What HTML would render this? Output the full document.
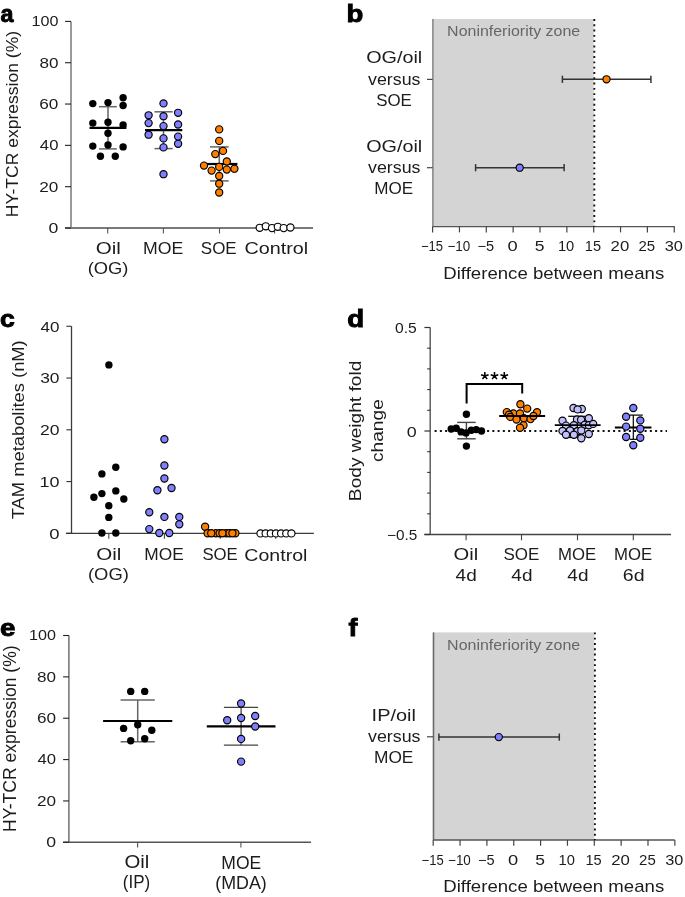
<!DOCTYPE html>
<html><head><meta charset="utf-8"><style>
html,body{margin:0;padding:0;background:#fff;}
svg{display:block;will-change:transform;}
text{font-family:"Liberation Sans", sans-serif;}
</style></head><body>
<svg width="685" height="897" viewBox="0 0 685 897">
<rect width="685" height="897" fill="#fff"/>
<text x="0.40" y="22.10" font-size="24.5" fill="#000" font-weight="bold" textLength="12.99" lengthAdjust="spacingAndGlyphs" stroke="#000" stroke-width="0.9">a</text>
<text x="346.61" y="21.80" font-size="24.5" fill="#000" font-weight="bold" textLength="16.81" lengthAdjust="spacingAndGlyphs" stroke="#000" stroke-width="0.9">b</text>
<text x="0.14" y="327.30" font-size="24.5" fill="#000" font-weight="bold" textLength="14.79" lengthAdjust="spacingAndGlyphs" stroke="#000" stroke-width="0.9">c</text>
<text x="347.29" y="326.90" font-size="24.5" fill="#000" font-weight="bold" textLength="16.93" lengthAdjust="spacingAndGlyphs" stroke="#000" stroke-width="0.9">d</text>
<text x="0.09" y="635.90" font-size="24.5" fill="#000" font-weight="bold" textLength="15.41" lengthAdjust="spacingAndGlyphs" stroke="#000" stroke-width="0.9">e</text>
<text x="348.50" y="635.90" font-size="24.5" fill="#000" font-weight="bold" textLength="8.95" lengthAdjust="spacingAndGlyphs" stroke="#000" stroke-width="0.9">f</text>
<line x1="71.00" y1="21.40" x2="71.00" y2="228.00" stroke="#9a9a9a" stroke-width="2" />
<line x1="65.00" y1="228.00" x2="313.00" y2="228.00" stroke="#7a7a7a" stroke-width="1.8" />
<line x1="65.00" y1="228.00" x2="71.00" y2="228.00" stroke="#222" stroke-width="1.1" />
<text x="48.59" y="233.00" font-size="14" fill="#1c1c1c" class="t" textLength="9.85" lengthAdjust="spacingAndGlyphs" >0</text>
<line x1="65.00" y1="186.68" x2="71.00" y2="186.68" stroke="#222" stroke-width="1.1" />
<text x="39.34" y="191.68" font-size="14" fill="#1c1c1c" class="t" textLength="19.10" lengthAdjust="spacingAndGlyphs" >20</text>
<line x1="65.00" y1="145.36" x2="71.00" y2="145.36" stroke="#222" stroke-width="1.1" />
<text x="39.87" y="150.36" font-size="14" fill="#1c1c1c" class="t" textLength="18.56" lengthAdjust="spacingAndGlyphs" >40</text>
<line x1="65.00" y1="104.04" x2="71.00" y2="104.04" stroke="#222" stroke-width="1.1" />
<text x="39.34" y="109.04" font-size="14" fill="#1c1c1c" class="t" textLength="19.10" lengthAdjust="spacingAndGlyphs" >60</text>
<line x1="65.00" y1="62.72" x2="71.00" y2="62.72" stroke="#222" stroke-width="1.1" />
<text x="39.43" y="67.72" font-size="14" fill="#1c1c1c" class="t" textLength="19.01" lengthAdjust="spacingAndGlyphs" >80</text>
<line x1="65.00" y1="21.40" x2="71.00" y2="21.40" stroke="#222" stroke-width="1.1" />
<text x="31.49" y="26.40" font-size="14" fill="#1c1c1c" class="t" textLength="26.93" lengthAdjust="spacingAndGlyphs" >100</text>
<line x1="107.70" y1="228.00" x2="107.70" y2="233.50" stroke="#555" stroke-width="1.1" />
<line x1="163.40" y1="228.00" x2="163.40" y2="233.50" stroke="#555" stroke-width="1.1" />
<line x1="219.50" y1="228.00" x2="219.50" y2="233.50" stroke="#555" stroke-width="1.1" />
<line x1="274.60" y1="228.00" x2="274.60" y2="233.50" stroke="#555" stroke-width="1.1" />
<text x="95.68" y="253.60" font-size="17" fill="#1c1c1c" class="t" textLength="25.10" lengthAdjust="spacingAndGlyphs" >Oil</text>
<text x="87.65" y="273.80" font-size="17" fill="#1c1c1c" class="t" textLength="40.73" lengthAdjust="spacingAndGlyphs" >(OG)</text>
<text x="143.04" y="253.60" font-size="17" fill="#1c1c1c" class="t" textLength="40.27" lengthAdjust="spacingAndGlyphs" >MOE</text>
<text x="200.84" y="253.60" font-size="17" fill="#1c1c1c" class="t" textLength="35.88" lengthAdjust="spacingAndGlyphs" >SOE</text>
<text x="244.51" y="253.80" font-size="17" fill="#1c1c1c" class="t" textLength="63.75" lengthAdjust="spacingAndGlyphs" >Control</text>
<text class="t" transform="translate(17.90,217.20) rotate(-90)" x="0" y="0" font-size="17" fill="#1c1c1c" textLength="186.30" lengthAdjust="spacingAndGlyphs">HY-TCR expression (%)</text>
<line x1="108.00" y1="106.70" x2="108.00" y2="148.90" stroke="#666" stroke-width="1.5" />
<line x1="99.00" y1="106.70" x2="116.80" y2="106.70" stroke="#666" stroke-width="1.5" />
<line x1="99.00" y1="148.90" x2="116.80" y2="148.90" stroke="#666" stroke-width="1.5" />
<line x1="163.50" y1="111.80" x2="163.50" y2="148.60" stroke="#666" stroke-width="1.5" />
<line x1="154.50" y1="111.80" x2="172.70" y2="111.80" stroke="#666" stroke-width="1.5" />
<line x1="154.50" y1="148.60" x2="172.70" y2="148.60" stroke="#666" stroke-width="1.5" />
<line x1="219.30" y1="146.90" x2="219.30" y2="180.90" stroke="#666" stroke-width="1.5" />
<line x1="210.00" y1="146.90" x2="228.70" y2="146.90" stroke="#666" stroke-width="1.5" />
<line x1="210.00" y1="180.90" x2="228.70" y2="180.90" stroke="#666" stroke-width="1.5" />
<line x1="89.50" y1="127.90" x2="126.40" y2="127.90" stroke="#000" stroke-width="2.2" />
<line x1="145.00" y1="130.20" x2="182.30" y2="130.20" stroke="#000" stroke-width="2.2" />
<line x1="206.00" y1="164.00" x2="237.40" y2="164.00" stroke="#000" stroke-width="2.2" />
<circle cx="92.80" cy="103.60" r="3.70" fill="#000"/>
<circle cx="108.00" cy="102.60" r="3.70" fill="#000"/>
<circle cx="123.10" cy="97.80" r="3.70" fill="#000"/>
<circle cx="123.10" cy="105.50" r="3.70" fill="#000"/>
<circle cx="92.80" cy="123.10" r="3.70" fill="#000"/>
<circle cx="108.00" cy="122.30" r="3.70" fill="#000"/>
<circle cx="123.10" cy="125.00" r="3.70" fill="#000"/>
<circle cx="108.00" cy="133.30" r="3.70" fill="#000"/>
<circle cx="92.80" cy="146.10" r="3.70" fill="#000"/>
<circle cx="108.00" cy="145.00" r="3.70" fill="#000"/>
<circle cx="123.10" cy="146.90" r="3.70" fill="#000"/>
<circle cx="100.40" cy="156.20" r="3.70" fill="#000"/>
<circle cx="115.30" cy="156.20" r="3.70" fill="#000"/>
<circle cx="163.50" cy="103.40" r="3.60" fill="#8080ff" stroke="#000" stroke-width="1.15"/>
<circle cx="148.60" cy="115.30" r="3.60" fill="#8080ff" stroke="#000" stroke-width="1.15"/>
<circle cx="163.50" cy="116.20" r="3.60" fill="#8080ff" stroke="#000" stroke-width="1.15"/>
<circle cx="178.10" cy="112.80" r="3.60" fill="#8080ff" stroke="#000" stroke-width="1.15"/>
<circle cx="148.60" cy="123.10" r="3.60" fill="#8080ff" stroke="#000" stroke-width="1.15"/>
<circle cx="163.50" cy="126.10" r="3.60" fill="#8080ff" stroke="#000" stroke-width="1.15"/>
<circle cx="178.10" cy="124.50" r="3.60" fill="#8080ff" stroke="#000" stroke-width="1.15"/>
<circle cx="148.60" cy="134.70" r="3.60" fill="#8080ff" stroke="#000" stroke-width="1.15"/>
<circle cx="163.50" cy="138.40" r="3.60" fill="#8080ff" stroke="#000" stroke-width="1.15"/>
<circle cx="178.10" cy="136.60" r="3.60" fill="#8080ff" stroke="#000" stroke-width="1.15"/>
<circle cx="178.10" cy="143.80" r="3.60" fill="#8080ff" stroke="#000" stroke-width="1.15"/>
<circle cx="163.50" cy="147.40" r="3.60" fill="#8080ff" stroke="#000" stroke-width="1.15"/>
<circle cx="163.50" cy="174.20" r="3.60" fill="#8080ff" stroke="#000" stroke-width="1.15"/>
<circle cx="219.20" cy="129.40" r="3.60" fill="#ff8000" stroke="#000" stroke-width="1.15"/>
<circle cx="219.20" cy="140.90" r="3.60" fill="#ff8000" stroke="#000" stroke-width="1.15"/>
<circle cx="223.00" cy="150.90" r="3.60" fill="#ff8000" stroke="#000" stroke-width="1.15"/>
<circle cx="215.30" cy="154.10" r="3.60" fill="#ff8000" stroke="#000" stroke-width="1.15"/>
<circle cx="226.80" cy="161.50" r="3.60" fill="#ff8000" stroke="#000" stroke-width="1.15"/>
<circle cx="204.00" cy="165.60" r="3.60" fill="#ff8000" stroke="#000" stroke-width="1.15"/>
<circle cx="219.20" cy="166.90" r="3.60" fill="#ff8000" stroke="#000" stroke-width="1.15"/>
<circle cx="211.60" cy="170.60" r="3.60" fill="#ff8000" stroke="#000" stroke-width="1.15"/>
<circle cx="226.80" cy="169.60" r="3.60" fill="#ff8000" stroke="#000" stroke-width="1.15"/>
<circle cx="234.40" cy="168.70" r="3.60" fill="#ff8000" stroke="#000" stroke-width="1.15"/>
<circle cx="219.20" cy="176.00" r="3.60" fill="#ff8000" stroke="#000" stroke-width="1.15"/>
<circle cx="219.20" cy="183.70" r="3.60" fill="#ff8000" stroke="#000" stroke-width="1.15"/>
<circle cx="219.20" cy="192.50" r="3.60" fill="#ff8000" stroke="#000" stroke-width="1.15"/>
<circle cx="259.70" cy="227.80" r="3.60" fill="#fff" stroke="#000" stroke-width="1.15"/>
<circle cx="265.80" cy="226.30" r="3.60" fill="#fff" stroke="#000" stroke-width="1.15"/>
<circle cx="272.00" cy="228.10" r="3.60" fill="#fff" stroke="#000" stroke-width="1.15"/>
<circle cx="277.80" cy="226.80" r="3.60" fill="#fff" stroke="#000" stroke-width="1.15"/>
<circle cx="283.70" cy="228.10" r="3.60" fill="#fff" stroke="#000" stroke-width="1.15"/>
<circle cx="290.40" cy="227.50" r="3.60" fill="#fff" stroke="#000" stroke-width="1.15"/>
<rect x="432.60" y="19.00" width="161.10" height="207.60" fill="#d4d4d4"/>
<line x1="432.90" y1="19.00" x2="432.90" y2="226.60" stroke="#8a8a8a" stroke-width="1.6" />
<line x1="432.60" y1="226.60" x2="674.80" y2="226.60" stroke="#555" stroke-width="1.4" />
<line x1="432.60" y1="226.60" x2="432.60" y2="232.40" stroke="#444" stroke-width="1.2" />
<text x="421.00" y="251.20" font-size="14" fill="#1c1c1c" class="t" textLength="22.09" lengthAdjust="spacingAndGlyphs" >−15</text>
<line x1="459.45" y1="226.60" x2="459.45" y2="232.40" stroke="#444" stroke-width="1.2" />
<text x="447.48" y="251.20" font-size="14" fill="#1c1c1c" class="t" textLength="22.76" lengthAdjust="spacingAndGlyphs" >−10</text>
<line x1="486.30" y1="226.60" x2="486.30" y2="232.40" stroke="#444" stroke-width="1.2" />
<text x="477.42" y="251.20" font-size="14" fill="#1c1c1c" class="t" textLength="16.61" lengthAdjust="spacingAndGlyphs" >−5</text>
<line x1="513.15" y1="226.60" x2="513.15" y2="232.40" stroke="#444" stroke-width="1.2" />
<text x="507.52" y="251.20" font-size="14" fill="#1c1c1c" class="t" textLength="10.20" lengthAdjust="spacingAndGlyphs" >0</text>
<line x1="540.00" y1="226.60" x2="540.00" y2="232.40" stroke="#444" stroke-width="1.2" />
<text x="534.65" y="251.20" font-size="14" fill="#1c1c1c" class="t" textLength="9.72" lengthAdjust="spacingAndGlyphs" >5</text>
<line x1="566.85" y1="226.60" x2="566.85" y2="232.40" stroke="#444" stroke-width="1.2" />
<text x="557.90" y="251.20" font-size="14" fill="#1c1c1c" class="t" textLength="16.35" lengthAdjust="spacingAndGlyphs" >10</text>
<line x1="593.70" y1="226.60" x2="593.70" y2="232.40" stroke="#444" stroke-width="1.2" />
<text x="584.86" y="251.20" font-size="14" fill="#1c1c1c" class="t" textLength="16.21" lengthAdjust="spacingAndGlyphs" >15</text>
<line x1="620.55" y1="226.60" x2="620.55" y2="232.40" stroke="#444" stroke-width="1.2" />
<text x="610.61" y="251.20" font-size="14" fill="#1c1c1c" class="t" textLength="18.67" lengthAdjust="spacingAndGlyphs" >20</text>
<line x1="647.40" y1="226.60" x2="647.40" y2="232.40" stroke="#444" stroke-width="1.2" />
<text x="638.50" y="251.20" font-size="14" fill="#1c1c1c" class="t" textLength="16.69" lengthAdjust="spacingAndGlyphs" >25</text>
<line x1="674.25" y1="226.60" x2="674.25" y2="232.40" stroke="#444" stroke-width="1.2" />
<text x="664.65" y="251.20" font-size="14" fill="#1c1c1c" class="t" textLength="18.16" lengthAdjust="spacingAndGlyphs" >30</text>
<line x1="594.30" y1="19.00" x2="594.30" y2="226.60" stroke="#111" stroke-width="1.9" stroke-dasharray="1.9 3.4"/>
<text x="447.12" y="36.30" font-size="15" fill="#666666" class="t" textLength="133.04" lengthAdjust="spacingAndGlyphs" >Noninferiority zone</text>
<text x="443.31" y="278.70" font-size="17" fill="#1c1c1c" class="t" textLength="220.90" lengthAdjust="spacingAndGlyphs" >Difference between means</text>
<line x1="427.00" y1="79.40" x2="432.60" y2="79.40" stroke="#444" stroke-width="1.2" />
<text x="366.21" y="63.40" font-size="17" fill="#1c1c1c" class="t" textLength="56.05" lengthAdjust="spacingAndGlyphs" >OG/oil</text>
<text x="368.06" y="84.50" font-size="17" fill="#1c1c1c" class="t" textLength="52.42" lengthAdjust="spacingAndGlyphs" >versus</text>
<text x="376.14" y="105.90" font-size="17" fill="#1c1c1c" class="t" textLength="35.67" lengthAdjust="spacingAndGlyphs" >SOE</text>
<line x1="427.00" y1="167.70" x2="432.60" y2="167.70" stroke="#444" stroke-width="1.2" />
<text x="366.21" y="152.00" font-size="17" fill="#1c1c1c" class="t" textLength="56.05" lengthAdjust="spacingAndGlyphs" >OG/oil</text>
<text x="368.06" y="172.50" font-size="17" fill="#1c1c1c" class="t" textLength="52.42" lengthAdjust="spacingAndGlyphs" >versus</text>
<text x="374.23" y="193.50" font-size="17" fill="#1c1c1c" class="t" textLength="38.90" lengthAdjust="spacingAndGlyphs" >MOE</text>
<line x1="562.40" y1="79.30" x2="650.90" y2="79.30" stroke="#333" stroke-width="1.5" />
<line x1="562.40" y1="75.70" x2="562.40" y2="82.90" stroke="#333" stroke-width="1.5" />
<line x1="650.90" y1="75.70" x2="650.90" y2="82.90" stroke="#333" stroke-width="1.5" />
<circle cx="606.50" cy="79.30" r="3.60" fill="#ff8000" stroke="#000" stroke-width="1.15"/>
<line x1="475.60" y1="167.70" x2="564.10" y2="167.70" stroke="#333" stroke-width="1.5" />
<line x1="475.60" y1="164.10" x2="475.60" y2="171.30" stroke="#333" stroke-width="1.5" />
<line x1="564.10" y1="164.10" x2="564.10" y2="171.30" stroke="#333" stroke-width="1.5" />
<circle cx="519.70" cy="167.70" r="3.60" fill="#8080ff" stroke="#000" stroke-width="1.15"/>
<rect x="433.20" y="632.40" width="161.10" height="207.60" fill="#d4d4d4"/>
<line x1="433.50" y1="632.40" x2="433.50" y2="840.00" stroke="#6a6a6a" stroke-width="1.6" />
<line x1="433.20" y1="840.00" x2="674.80" y2="840.00" stroke="#555" stroke-width="1.4" />
<line x1="433.20" y1="840.00" x2="433.20" y2="845.80" stroke="#444" stroke-width="1.2" />
<text x="421.60" y="864.60" font-size="14" fill="#1c1c1c" class="t" textLength="22.09" lengthAdjust="spacingAndGlyphs" >−15</text>
<line x1="460.05" y1="840.00" x2="460.05" y2="845.80" stroke="#444" stroke-width="1.2" />
<text x="448.08" y="864.60" font-size="14" fill="#1c1c1c" class="t" textLength="22.76" lengthAdjust="spacingAndGlyphs" >−10</text>
<line x1="486.90" y1="840.00" x2="486.90" y2="845.80" stroke="#444" stroke-width="1.2" />
<text x="478.02" y="864.60" font-size="14" fill="#1c1c1c" class="t" textLength="16.61" lengthAdjust="spacingAndGlyphs" >−5</text>
<line x1="513.75" y1="840.00" x2="513.75" y2="845.80" stroke="#444" stroke-width="1.2" />
<text x="508.12" y="864.60" font-size="14" fill="#1c1c1c" class="t" textLength="10.20" lengthAdjust="spacingAndGlyphs" >0</text>
<line x1="540.60" y1="840.00" x2="540.60" y2="845.80" stroke="#444" stroke-width="1.2" />
<text x="535.25" y="864.60" font-size="14" fill="#1c1c1c" class="t" textLength="9.72" lengthAdjust="spacingAndGlyphs" >5</text>
<line x1="567.45" y1="840.00" x2="567.45" y2="845.80" stroke="#444" stroke-width="1.2" />
<text x="558.50" y="864.60" font-size="14" fill="#1c1c1c" class="t" textLength="16.35" lengthAdjust="spacingAndGlyphs" >10</text>
<line x1="594.30" y1="840.00" x2="594.30" y2="845.80" stroke="#444" stroke-width="1.2" />
<text x="585.46" y="864.60" font-size="14" fill="#1c1c1c" class="t" textLength="16.21" lengthAdjust="spacingAndGlyphs" >15</text>
<line x1="621.15" y1="840.00" x2="621.15" y2="845.80" stroke="#444" stroke-width="1.2" />
<text x="611.21" y="864.60" font-size="14" fill="#1c1c1c" class="t" textLength="18.67" lengthAdjust="spacingAndGlyphs" >20</text>
<line x1="648.00" y1="840.00" x2="648.00" y2="845.80" stroke="#444" stroke-width="1.2" />
<text x="639.10" y="864.60" font-size="14" fill="#1c1c1c" class="t" textLength="16.69" lengthAdjust="spacingAndGlyphs" >25</text>
<line x1="674.85" y1="840.00" x2="674.85" y2="845.80" stroke="#444" stroke-width="1.2" />
<text x="665.25" y="864.60" font-size="14" fill="#1c1c1c" class="t" textLength="18.16" lengthAdjust="spacingAndGlyphs" >30</text>
<line x1="594.90" y1="632.40" x2="594.90" y2="840.00" stroke="#111" stroke-width="1.9" stroke-dasharray="1.9 3.4"/>
<text x="447.12" y="649.70" font-size="15" fill="#666666" class="t" textLength="133.04" lengthAdjust="spacingAndGlyphs" >Noninferiority zone</text>
<text x="443.31" y="892.10" font-size="17" fill="#1c1c1c" class="t" textLength="220.90" lengthAdjust="spacingAndGlyphs" >Difference between means</text>
<line x1="427.00" y1="736.80" x2="433.20" y2="736.80" stroke="#444" stroke-width="1.2" />
<text x="371.60" y="721.20" font-size="17" fill="#1c1c1c" class="t" textLength="44.36" lengthAdjust="spacingAndGlyphs" >IP/oil</text>
<text x="368.06" y="741.70" font-size="17" fill="#1c1c1c" class="t" textLength="52.42" lengthAdjust="spacingAndGlyphs" >versus</text>
<text x="373.97" y="763.40" font-size="17" fill="#1c1c1c" class="t" textLength="39.43" lengthAdjust="spacingAndGlyphs" >MOE</text>
<line x1="438.90" y1="737.10" x2="559.30" y2="737.10" stroke="#333" stroke-width="1.5" />
<line x1="438.90" y1="733.50" x2="438.90" y2="740.70" stroke="#333" stroke-width="1.5" />
<line x1="559.30" y1="733.50" x2="559.30" y2="740.70" stroke="#333" stroke-width="1.5" />
<circle cx="498.80" cy="737.10" r="3.60" fill="#8080ff" stroke="#000" stroke-width="1.15"/>
<line x1="71.50" y1="326.30" x2="71.50" y2="533.30" stroke="#3c3c3c" stroke-width="1.3" />
<line x1="65.90" y1="533.30" x2="313.90" y2="533.30" stroke="#3c3c3c" stroke-width="1.3" />
<line x1="66.40" y1="533.30" x2="71.50" y2="533.30" stroke="#333" stroke-width="1.1" />
<text x="49.26" y="538.50" font-size="14" fill="#1c1c1c" class="t" textLength="10.31" lengthAdjust="spacingAndGlyphs" >0</text>
<line x1="66.40" y1="481.55" x2="71.50" y2="481.55" stroke="#333" stroke-width="1.1" />
<text x="39.55" y="486.75" font-size="14" fill="#1c1c1c" class="t" textLength="20.02" lengthAdjust="spacingAndGlyphs" >10</text>
<line x1="66.40" y1="429.80" x2="71.50" y2="429.80" stroke="#333" stroke-width="1.1" />
<text x="40.02" y="435.00" font-size="14" fill="#1c1c1c" class="t" textLength="19.53" lengthAdjust="spacingAndGlyphs" >20</text>
<line x1="66.40" y1="378.05" x2="71.50" y2="378.05" stroke="#333" stroke-width="1.1" />
<text x="40.20" y="383.25" font-size="14" fill="#1c1c1c" class="t" textLength="19.35" lengthAdjust="spacingAndGlyphs" >30</text>
<line x1="66.40" y1="326.30" x2="71.50" y2="326.30" stroke="#333" stroke-width="1.1" />
<text x="40.56" y="331.50" font-size="14" fill="#1c1c1c" class="t" textLength="18.98" lengthAdjust="spacingAndGlyphs" >40</text>
<line x1="108.80" y1="533.30" x2="108.80" y2="538.80" stroke="#444" stroke-width="1.1" />
<line x1="164.40" y1="533.30" x2="164.40" y2="538.80" stroke="#444" stroke-width="1.1" />
<line x1="220.20" y1="533.30" x2="220.20" y2="538.80" stroke="#444" stroke-width="1.1" />
<line x1="275.70" y1="533.30" x2="275.70" y2="538.80" stroke="#444" stroke-width="1.1" />
<text x="96.28" y="560.40" font-size="17" fill="#1c1c1c" class="t" textLength="25.10" lengthAdjust="spacingAndGlyphs" >Oil</text>
<text x="88.00" y="580.20" font-size="17" fill="#1c1c1c" class="t" textLength="40.84" lengthAdjust="spacingAndGlyphs" >(OG)</text>
<text x="144.37" y="560.40" font-size="17" fill="#1c1c1c" class="t" textLength="39.43" lengthAdjust="spacingAndGlyphs" >MOE</text>
<text x="202.40" y="560.40" font-size="17" fill="#1c1c1c" class="t" textLength="35.35" lengthAdjust="spacingAndGlyphs" >SOE</text>
<text x="244.37" y="560.60" font-size="17" fill="#1c1c1c" class="t" textLength="63.02" lengthAdjust="spacingAndGlyphs" >Control</text>
<text class="t" transform="translate(24.00,519.27) rotate(-90)" x="0" y="0" font-size="17" fill="#1c1c1c" textLength="179.00" lengthAdjust="spacingAndGlyphs">TAM metabolites (nM)</text>
<circle cx="108.90" cy="364.90" r="3.70" fill="#000"/>
<circle cx="101.90" cy="473.90" r="3.70" fill="#000"/>
<circle cx="115.80" cy="467.30" r="3.70" fill="#000"/>
<circle cx="93.90" cy="497.20" r="3.70" fill="#000"/>
<circle cx="101.90" cy="493.60" r="3.70" fill="#000"/>
<circle cx="115.80" cy="490.90" r="3.70" fill="#000"/>
<circle cx="123.80" cy="499.00" r="3.70" fill="#000"/>
<circle cx="108.80" cy="505.70" r="3.70" fill="#000"/>
<circle cx="108.80" cy="517.40" r="3.70" fill="#000"/>
<circle cx="101.90" cy="533.00" r="3.70" fill="#000"/>
<circle cx="115.80" cy="533.00" r="3.70" fill="#000"/>
<circle cx="164.40" cy="439.30" r="3.60" fill="#8080ff" stroke="#000" stroke-width="1.15"/>
<circle cx="164.40" cy="465.50" r="3.60" fill="#8080ff" stroke="#000" stroke-width="1.15"/>
<circle cx="164.40" cy="478.50" r="3.60" fill="#8080ff" stroke="#000" stroke-width="1.15"/>
<circle cx="157.40" cy="490.20" r="3.60" fill="#8080ff" stroke="#000" stroke-width="1.15"/>
<circle cx="171.50" cy="488.00" r="3.60" fill="#8080ff" stroke="#000" stroke-width="1.15"/>
<circle cx="149.30" cy="512.30" r="3.60" fill="#8080ff" stroke="#000" stroke-width="1.15"/>
<circle cx="164.40" cy="516.90" r="3.60" fill="#8080ff" stroke="#000" stroke-width="1.15"/>
<circle cx="179.30" cy="516.90" r="3.60" fill="#8080ff" stroke="#000" stroke-width="1.15"/>
<circle cx="179.30" cy="524.20" r="3.60" fill="#8080ff" stroke="#000" stroke-width="1.15"/>
<circle cx="149.30" cy="529.10" r="3.60" fill="#8080ff" stroke="#000" stroke-width="1.15"/>
<circle cx="159.30" cy="533.00" r="3.60" fill="#8080ff" stroke="#000" stroke-width="1.15"/>
<circle cx="169.30" cy="533.00" r="3.60" fill="#8080ff" stroke="#000" stroke-width="1.15"/>
<circle cx="205.10" cy="526.70" r="3.60" fill="#ff8000" stroke="#000" stroke-width="1.15"/>
<circle cx="207.60" cy="533.20" r="3.60" fill="#ff8000" stroke="#000" stroke-width="1.15"/>
<circle cx="215.80" cy="533.20" r="3.60" fill="#ff8000" stroke="#000" stroke-width="1.15"/>
<circle cx="219.60" cy="533.20" r="3.60" fill="#ff8000" stroke="#000" stroke-width="1.15"/>
<circle cx="226.20" cy="533.20" r="3.60" fill="#ff8000" stroke="#000" stroke-width="1.15"/>
<circle cx="229.40" cy="533.20" r="3.60" fill="#ff8000" stroke="#000" stroke-width="1.15"/>
<circle cx="235.40" cy="533.20" r="3.60" fill="#ff8000" stroke="#000" stroke-width="1.15"/>
<circle cx="211.20" cy="533.20" r="3.60" fill="#ff8000" stroke="#000" stroke-width="1.15"/>
<circle cx="222.40" cy="533.20" r="3.60" fill="#ff8000" stroke="#000" stroke-width="1.15"/>
<circle cx="232.40" cy="533.20" r="3.60" fill="#ff8000" stroke="#000" stroke-width="1.15"/>
<circle cx="260.50" cy="533.40" r="3.60" fill="#fff" stroke="#000" stroke-width="1.15"/>
<circle cx="265.65" cy="533.40" r="3.60" fill="#fff" stroke="#000" stroke-width="1.15"/>
<circle cx="270.80" cy="533.40" r="3.60" fill="#fff" stroke="#000" stroke-width="1.15"/>
<circle cx="275.95" cy="533.40" r="3.60" fill="#fff" stroke="#000" stroke-width="1.15"/>
<circle cx="281.10" cy="533.40" r="3.60" fill="#fff" stroke="#000" stroke-width="1.15"/>
<circle cx="286.25" cy="533.40" r="3.60" fill="#fff" stroke="#000" stroke-width="1.15"/>
<circle cx="291.40" cy="533.40" r="3.60" fill="#fff" stroke="#000" stroke-width="1.15"/>
<line x1="430.20" y1="327.50" x2="430.20" y2="534.50" stroke="#555" stroke-width="1.4" />
<line x1="424.40" y1="534.50" x2="671.00" y2="534.50" stroke="#444" stroke-width="1.4" />
<line x1="424.40" y1="327.50" x2="430.20" y2="327.50" stroke="#333" stroke-width="1.2" />
<line x1="424.40" y1="431.00" x2="430.20" y2="431.00" stroke="#333" stroke-width="1.2" />
<line x1="424.40" y1="534.50" x2="430.20" y2="534.50" stroke="#333" stroke-width="1.2" />
<line x1="427.20" y1="348.20" x2="430.20" y2="348.20" stroke="#333" stroke-width="1.1" />
<line x1="427.20" y1="368.90" x2="430.20" y2="368.90" stroke="#333" stroke-width="1.1" />
<line x1="427.20" y1="389.60" x2="430.20" y2="389.60" stroke="#333" stroke-width="1.1" />
<line x1="427.20" y1="410.30" x2="430.20" y2="410.30" stroke="#333" stroke-width="1.1" />
<line x1="427.20" y1="451.70" x2="430.20" y2="451.70" stroke="#333" stroke-width="1.1" />
<line x1="427.20" y1="472.40" x2="430.20" y2="472.40" stroke="#333" stroke-width="1.1" />
<line x1="427.20" y1="493.10" x2="430.20" y2="493.10" stroke="#333" stroke-width="1.1" />
<line x1="427.20" y1="513.80" x2="430.20" y2="513.80" stroke="#333" stroke-width="1.1" />
<text x="395.07" y="333.30" font-size="14" fill="#1c1c1c" class="t" textLength="21.75" lengthAdjust="spacingAndGlyphs" >0.5</text>
<text x="406.68" y="436.60" font-size="14" fill="#1c1c1c" class="t" textLength="9.96" lengthAdjust="spacingAndGlyphs" >0</text>
<text x="387.13" y="540.00" font-size="14" fill="#1c1c1c" class="t" textLength="30.27" lengthAdjust="spacingAndGlyphs" >−0.5</text>
<line x1="434.6" y1="431" x2="667" y2="431" stroke="#111" stroke-width="2" stroke-dasharray="2 3.25"/>
<line x1="466.10" y1="534.50" x2="466.10" y2="540.30" stroke="#444" stroke-width="1.1" />
<line x1="521.50" y1="534.50" x2="521.50" y2="540.30" stroke="#444" stroke-width="1.1" />
<line x1="577.50" y1="534.50" x2="577.50" y2="540.30" stroke="#444" stroke-width="1.1" />
<line x1="633.30" y1="534.50" x2="633.30" y2="540.30" stroke="#444" stroke-width="1.1" />
<text x="453.59" y="560.30" font-size="17" fill="#1c1c1c" class="t" textLength="24.66" lengthAdjust="spacingAndGlyphs" >Oil</text>
<text x="455.57" y="580.70" font-size="17" fill="#1c1c1c" class="t" textLength="21.16" lengthAdjust="spacingAndGlyphs" >4d</text>
<text x="503.54" y="560.30" font-size="17" fill="#1c1c1c" class="t" textLength="35.88" lengthAdjust="spacingAndGlyphs" >SOE</text>
<text x="511.37" y="580.70" font-size="17" fill="#1c1c1c" class="t" textLength="21.16" lengthAdjust="spacingAndGlyphs" >4d</text>
<text x="558.11" y="560.30" font-size="17" fill="#1c1c1c" class="t" textLength="38.16" lengthAdjust="spacingAndGlyphs" >MOE</text>
<text x="567.37" y="580.70" font-size="17" fill="#1c1c1c" class="t" textLength="21.16" lengthAdjust="spacingAndGlyphs" >4d</text>
<text x="614.11" y="560.30" font-size="17" fill="#1c1c1c" class="t" textLength="38.16" lengthAdjust="spacingAndGlyphs" >MOE</text>
<text x="622.77" y="580.70" font-size="17" fill="#1c1c1c" class="t" textLength="21.80" lengthAdjust="spacingAndGlyphs" >6d</text>
<text class="t" transform="translate(361.40,501.13) rotate(-90)" x="0" y="0" font-size="17" fill="#1c1c1c" textLength="140.43" lengthAdjust="spacingAndGlyphs">Body weight fold</text>
<text class="t" transform="translate(382.60,461.96) rotate(-90)" x="0" y="0" font-size="17" fill="#1c1c1c" textLength="62.74" lengthAdjust="spacingAndGlyphs">change</text>
<polyline points="466.6,403.6 466.6,383.9 522.2,383.9 522.2,393.4" fill="none" stroke="#000" stroke-width="2"/>
<path d="M484.80,375.90L484.80,371.90M484.80,375.90L488.60,374.66M484.80,375.90L487.15,379.14M484.80,375.90L482.45,379.14M484.80,375.90L481.00,374.66" stroke="#000" stroke-width="1.55" fill="none"/>
<path d="M494.50,375.90L494.50,371.90M494.50,375.90L498.30,374.66M494.50,375.90L496.85,379.14M494.50,375.90L492.15,379.14M494.50,375.90L490.70,374.66" stroke="#000" stroke-width="1.55" fill="none"/>
<path d="M504.30,375.90L504.30,371.90M504.30,375.90L508.10,374.66M504.30,375.90L506.65,379.14M504.30,375.90L501.95,379.14M504.30,375.90L500.50,374.66" stroke="#000" stroke-width="1.55" fill="none"/>
<line x1="466.40" y1="422.40" x2="466.40" y2="438.80" stroke="#444" stroke-width="1.4" />
<line x1="457.20" y1="422.40" x2="475.70" y2="422.40" stroke="#444" stroke-width="1.4" />
<line x1="457.20" y1="438.80" x2="475.70" y2="438.80" stroke="#444" stroke-width="1.4" />
<line x1="577.20" y1="416.30" x2="577.20" y2="437.50" stroke="#000" stroke-width="1.2" />
<line x1="568.20" y1="416.30" x2="585.70" y2="416.30" stroke="#000" stroke-width="1.2" />
<line x1="568.20" y1="437.50" x2="585.70" y2="437.50" stroke="#000" stroke-width="1.2" />
<line x1="633.30" y1="415.10" x2="633.30" y2="439.30" stroke="#000" stroke-width="1.2" />
<line x1="629.80" y1="415.10" x2="642.80" y2="415.10" stroke="#000" stroke-width="1.2" />
<line x1="629.80" y1="439.30" x2="642.80" y2="439.30" stroke="#000" stroke-width="1.2" />
<line x1="614.90" y1="427.60" x2="651.50" y2="427.60" stroke="#000" stroke-width="2.0" />
<circle cx="466.40" cy="414.20" r="3.70" fill="#000"/>
<circle cx="466.40" cy="446.10" r="3.70" fill="#000"/>
<circle cx="451.20" cy="429.00" r="3.70" fill="#000"/>
<circle cx="456.20" cy="428.30" r="3.70" fill="#000"/>
<circle cx="461.10" cy="431.90" r="3.70" fill="#000"/>
<circle cx="466.00" cy="432.90" r="3.70" fill="#000"/>
<circle cx="471.30" cy="430.30" r="3.70" fill="#000"/>
<circle cx="476.20" cy="429.60" r="3.70" fill="#000"/>
<circle cx="481.50" cy="431.00" r="3.70" fill="#000"/>
<circle cx="520.40" cy="404.20" r="3.60" fill="#ff8000" stroke="#000" stroke-width="1.15"/>
<circle cx="527.20" cy="408.60" r="3.60" fill="#ff8000" stroke="#000" stroke-width="1.15"/>
<circle cx="506.80" cy="412.10" r="3.60" fill="#ff8000" stroke="#000" stroke-width="1.15"/>
<circle cx="513.40" cy="413.40" r="3.60" fill="#ff8000" stroke="#000" stroke-width="1.15"/>
<circle cx="520.00" cy="413.40" r="3.60" fill="#ff8000" stroke="#000" stroke-width="1.15"/>
<circle cx="537.00" cy="412.30" r="3.60" fill="#ff8000" stroke="#000" stroke-width="1.15"/>
<circle cx="509.00" cy="414.70" r="3.60" fill="#ff8000" stroke="#000" stroke-width="1.15"/>
<circle cx="510.30" cy="416.90" r="3.60" fill="#ff8000" stroke="#000" stroke-width="1.15"/>
<circle cx="516.50" cy="419.50" r="3.60" fill="#ff8000" stroke="#000" stroke-width="1.15"/>
<circle cx="523.90" cy="418.20" r="3.60" fill="#ff8000" stroke="#000" stroke-width="1.15"/>
<circle cx="530.50" cy="419.10" r="3.60" fill="#ff8000" stroke="#000" stroke-width="1.15"/>
<circle cx="533.50" cy="416.00" r="3.60" fill="#ff8000" stroke="#000" stroke-width="1.15"/>
<circle cx="523.50" cy="425.20" r="3.60" fill="#ff8000" stroke="#000" stroke-width="1.15"/>
<circle cx="520.00" cy="427.80" r="3.60" fill="#ff8000" stroke="#000" stroke-width="1.15"/>
<circle cx="573.50" cy="408.00" r="3.60" fill="#c1c1fb" stroke="#000" stroke-width="1.15"/>
<circle cx="581.80" cy="409.00" r="3.60" fill="#c1c1fb" stroke="#000" stroke-width="1.15"/>
<circle cx="577.60" cy="409.40" r="3.60" fill="#c1c1fb" stroke="#000" stroke-width="1.15"/>
<circle cx="562.50" cy="420.80" r="3.60" fill="#c1c1fb" stroke="#000" stroke-width="1.15"/>
<circle cx="577.00" cy="419.50" r="3.60" fill="#c1c1fb" stroke="#000" stroke-width="1.15"/>
<circle cx="581.10" cy="419.80" r="3.60" fill="#c1c1fb" stroke="#000" stroke-width="1.15"/>
<circle cx="588.80" cy="418.20" r="3.60" fill="#c1c1fb" stroke="#000" stroke-width="1.15"/>
<circle cx="566.00" cy="425.60" r="3.60" fill="#c1c1fb" stroke="#000" stroke-width="1.15"/>
<circle cx="573.90" cy="425.20" r="3.60" fill="#c1c1fb" stroke="#000" stroke-width="1.15"/>
<circle cx="584.80" cy="424.80" r="3.60" fill="#c1c1fb" stroke="#000" stroke-width="1.15"/>
<circle cx="588.80" cy="425.20" r="3.60" fill="#c1c1fb" stroke="#000" stroke-width="1.15"/>
<circle cx="593.20" cy="423.90" r="3.60" fill="#c1c1fb" stroke="#000" stroke-width="1.15"/>
<circle cx="562.50" cy="430.90" r="3.60" fill="#c1c1fb" stroke="#000" stroke-width="1.15"/>
<circle cx="570.00" cy="430.50" r="3.60" fill="#c1c1fb" stroke="#000" stroke-width="1.15"/>
<circle cx="577.40" cy="431.30" r="3.60" fill="#c1c1fb" stroke="#000" stroke-width="1.15"/>
<circle cx="581.30" cy="430.50" r="3.60" fill="#c1c1fb" stroke="#000" stroke-width="1.15"/>
<circle cx="566.00" cy="434.80" r="3.60" fill="#c1c1fb" stroke="#000" stroke-width="1.15"/>
<circle cx="573.90" cy="434.80" r="3.60" fill="#c1c1fb" stroke="#000" stroke-width="1.15"/>
<circle cx="588.80" cy="434.00" r="3.60" fill="#c1c1fb" stroke="#000" stroke-width="1.15"/>
<circle cx="581.30" cy="438.30" r="3.60" fill="#c1c1fb" stroke="#000" stroke-width="1.15"/>
<circle cx="633.30" cy="408.00" r="3.60" fill="#8080ff" stroke="#000" stroke-width="1.15"/>
<circle cx="626.10" cy="416.70" r="3.60" fill="#8080ff" stroke="#000" stroke-width="1.15"/>
<circle cx="640.30" cy="420.40" r="3.60" fill="#8080ff" stroke="#000" stroke-width="1.15"/>
<circle cx="626.10" cy="426.60" r="3.60" fill="#8080ff" stroke="#000" stroke-width="1.15"/>
<circle cx="640.30" cy="428.80" r="3.60" fill="#8080ff" stroke="#000" stroke-width="1.15"/>
<circle cx="626.10" cy="437.00" r="3.60" fill="#8080ff" stroke="#000" stroke-width="1.15"/>
<circle cx="640.30" cy="437.80" r="3.60" fill="#8080ff" stroke="#000" stroke-width="1.15"/>
<circle cx="633.30" cy="445.30" r="3.60" fill="#8080ff" stroke="#000" stroke-width="1.15"/>
<line x1="499.20" y1="416.00" x2="545.10" y2="416.00" stroke="#000" stroke-width="2.0" />
<line x1="554.80" y1="425.20" x2="600.60" y2="425.20" stroke="#000" stroke-width="1.7" />
<line x1="68.90" y1="635.50" x2="68.90" y2="842.30" stroke="#707070" stroke-width="1.5" />
<line x1="63.10" y1="842.30" x2="311.00" y2="842.30" stroke="#555" stroke-width="1.4" />
<line x1="63.10" y1="842.30" x2="68.90" y2="842.30" stroke="#222" stroke-width="1.1" />
<text x="46.19" y="847.10" font-size="14" fill="#1c1c1c" class="t" textLength="9.85" lengthAdjust="spacingAndGlyphs" >0</text>
<line x1="63.10" y1="800.94" x2="68.90" y2="800.94" stroke="#222" stroke-width="1.1" />
<text x="36.94" y="805.74" font-size="14" fill="#1c1c1c" class="t" textLength="19.10" lengthAdjust="spacingAndGlyphs" >20</text>
<line x1="63.10" y1="759.58" x2="68.90" y2="759.58" stroke="#222" stroke-width="1.1" />
<text x="37.47" y="764.38" font-size="14" fill="#1c1c1c" class="t" textLength="18.56" lengthAdjust="spacingAndGlyphs" >40</text>
<line x1="63.10" y1="718.22" x2="68.90" y2="718.22" stroke="#222" stroke-width="1.1" />
<text x="36.94" y="723.02" font-size="14" fill="#1c1c1c" class="t" textLength="19.10" lengthAdjust="spacingAndGlyphs" >60</text>
<line x1="63.10" y1="676.86" x2="68.90" y2="676.86" stroke="#222" stroke-width="1.1" />
<text x="37.03" y="681.66" font-size="14" fill="#1c1c1c" class="t" textLength="19.01" lengthAdjust="spacingAndGlyphs" >80</text>
<line x1="63.10" y1="635.50" x2="68.90" y2="635.50" stroke="#222" stroke-width="1.1" />
<text x="29.09" y="640.30" font-size="14" fill="#1c1c1c" class="t" textLength="26.93" lengthAdjust="spacingAndGlyphs" >100</text>
<line x1="137.60" y1="842.30" x2="137.60" y2="847.40" stroke="#555" stroke-width="1.1" />
<line x1="240.90" y1="842.30" x2="240.90" y2="847.40" stroke="#555" stroke-width="1.1" />
<text x="124.48" y="867.80" font-size="17.7" fill="#1c1c1c" class="t" textLength="24.88" lengthAdjust="spacingAndGlyphs" >Oil</text>
<text x="122.78" y="888.40" font-size="17.7" fill="#1c1c1c" class="t" textLength="27.46" lengthAdjust="spacingAndGlyphs" >(IP)</text>
<text x="221.30" y="868.60" font-size="17.7" fill="#1c1c1c" class="t" textLength="39.96" lengthAdjust="spacingAndGlyphs" >MOE</text>
<text x="215.23" y="888.80" font-size="17.7" fill="#1c1c1c" class="t" textLength="51.60" lengthAdjust="spacingAndGlyphs" >(MDA)</text>
<text class="t" transform="translate(15.70,832.00) rotate(-90)" x="0" y="0" font-size="17.7" fill="#1c1c1c" textLength="186.60" lengthAdjust="spacingAndGlyphs">HY-TCR expression (%)</text>
<line x1="137.70" y1="700.00" x2="137.70" y2="741.80" stroke="#666" stroke-width="1.5" />
<line x1="120.60" y1="700.00" x2="154.80" y2="700.00" stroke="#666" stroke-width="1.5" />
<line x1="120.60" y1="741.80" x2="154.80" y2="741.80" stroke="#666" stroke-width="1.5" />
<line x1="103.10" y1="721.00" x2="172.30" y2="721.00" stroke="#000" stroke-width="2.2" />
<line x1="241.10" y1="707.30" x2="241.10" y2="745.20" stroke="#444" stroke-width="1.3" />
<line x1="223.90" y1="707.30" x2="258.10" y2="707.30" stroke="#444" stroke-width="1.3" />
<line x1="223.90" y1="745.20" x2="258.10" y2="745.20" stroke="#444" stroke-width="1.3" />
<line x1="206.80" y1="726.40" x2="275.50" y2="726.40" stroke="#000" stroke-width="2.2" />
<circle cx="130.70" cy="691.40" r="3.70" fill="#000"/>
<circle cx="144.70" cy="691.40" r="3.70" fill="#000"/>
<circle cx="137.70" cy="724.70" r="3.70" fill="#000"/>
<circle cx="123.60" cy="728.40" r="3.70" fill="#000"/>
<circle cx="151.80" cy="730.20" r="3.70" fill="#000"/>
<circle cx="130.70" cy="740.70" r="3.70" fill="#000"/>
<circle cx="144.70" cy="738.70" r="3.70" fill="#000"/>
<circle cx="241.10" cy="703.50" r="3.60" fill="#8080ff" stroke="#000" stroke-width="1.15"/>
<circle cx="227.20" cy="720.20" r="3.60" fill="#8080ff" stroke="#000" stroke-width="1.15"/>
<circle cx="241.10" cy="718.00" r="3.60" fill="#8080ff" stroke="#000" stroke-width="1.15"/>
<circle cx="255.20" cy="716.00" r="3.60" fill="#8080ff" stroke="#000" stroke-width="1.15"/>
<circle cx="255.20" cy="726.50" r="3.60" fill="#8080ff" stroke="#000" stroke-width="1.15"/>
<circle cx="241.10" cy="738.90" r="3.60" fill="#8080ff" stroke="#000" stroke-width="1.15"/>
<circle cx="241.10" cy="761.60" r="3.60" fill="#8080ff" stroke="#000" stroke-width="1.15"/>
</svg>
</body></html>
